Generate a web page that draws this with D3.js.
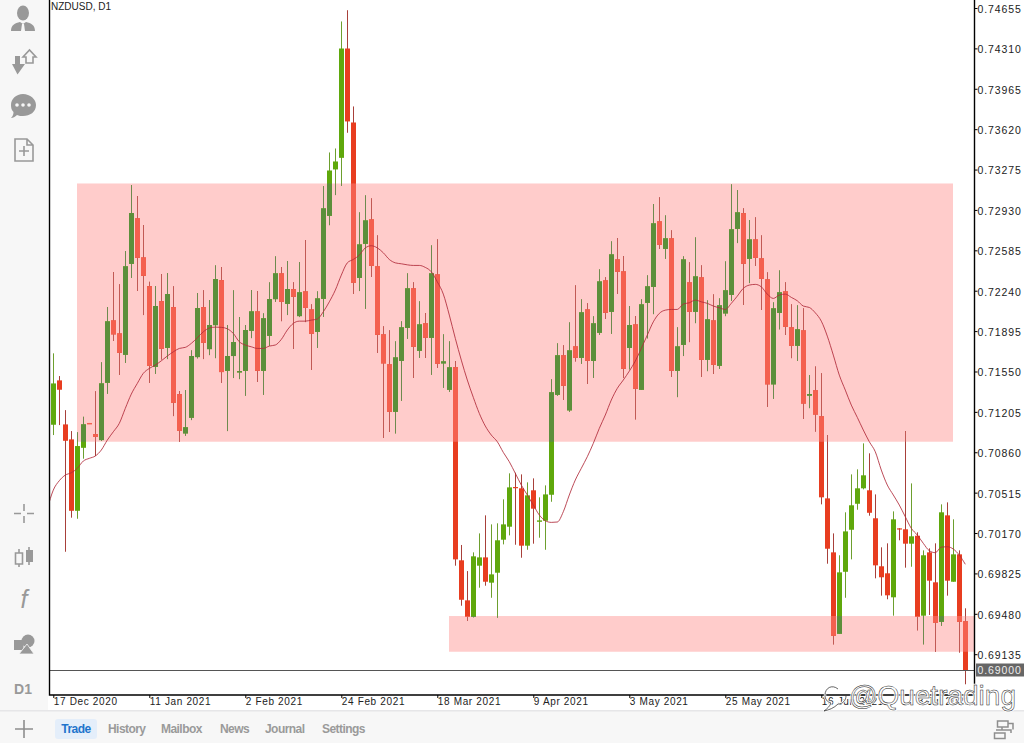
<!DOCTYPE html>
<html><head><meta charset="utf-8">
<script src="https://cdn.jsdelivr.net/npm/d3@7/dist/d3.min.js"></script>
<style>
html,body{margin:0;padding:0;background:#fff;width:1024px;height:743px;overflow:hidden}
svg{display:block}
text{font-family:"Liberation Sans",Arial,sans-serif}
</style></head><body>
<svg id="c" width="1024" height="743"></svg>
<script>
// Prices in points (1 point = 0.00001)
const opens=[71095,71474,71098,70970,70360,70898,71110,71015,70964,71454,
71986,71875,71693,72470,72858,72524,72279,71590,72151,71752,
72100,71357,71021,71155,71673,72100,71741,71946,72331,71556,
71682,71542,71556,71898,72063,71556,71855,72168,72388,72128,
72254,72023,72234,72080,71889,72171,72880,73276,73375,74309,
73677,72350,72641,72849,72448,71867,71611,71206,71641,71923,
72260,71727,71961,71838,72379,71619,71394,71588,69937,69595,
69455,69891,69962,69746,69831,70113,70224,70563,70552,70062,
70535,70266,70275,70497,71351,71688,71218,71764,71667,72080,
71641,71881,72328,72060,72507,72405,71752,71952,71394,72137,
72273,72832,72598,72687,71556,71778,72311,72060,72354,71650,
71986,71599,72046,72205,72769,72903,72513,72678,72516,72337,
71440,72051,72234,71927,71770,71901,71344,71389,71167,70466,
70005,69310,69839,70198,70420,70552,70535,70296,69886,69826,
69621,70210,70202,70079,70147,69464,70005,69749,69412,70321,
69754,69988,69416];
const highs=[71705,71511,71220,71041,71030,71163,71110,71380,71628,72100,
72399,72294,72578,73142,73048,72800,72316,72279,72382,72390,
72277,71383,71391,71730,72220,72243,72160,72456,72442,71946,
72243,72015,71946,72245,72237,72046,72311,72533,72442,72493,
72311,72484,72672,72123,72234,73133,73421,73455,74540,74636,
73814,72909,73054,73028,72712,71935,71901,71807,71978,72388,
72311,72149,72049,72627,72678,71867,71807,71639,70068,69845,
70005,70167,70321,70244,70253,70458,70680,70685,70671,70603,
70637,70475,70577,71483,71790,71773,71969,72285,72166,72132,
72021,72422,72354,72661,72689,72536,72109,72023,72166,72371,
72980,73037,72883,72755,71927,72533,72482,72695,72456,72157,
72208,72174,72490,73148,73099,72943,72843,72866,72712,72396,
72140,72413,72311,72123,72115,72089,71519,71592,71534,71007,
70167,69980,70347,70671,70714,70936,70851,70500,70048,70082,
70355,70212,71041,70594,70176,70022,70039,70082,70415,70432,
70287,70022,69527];
const lows=[71007,71092,70010,70301,70292,70805,71104,70828,70956,71360,
71812,71522,71624,72350,72239,72032,71454,71530,71653,71656,
71169,70950,71001,71135,71662,71656,71690,71664,71454,71041,
71494,71485,71343,71835,71462,71351,71770,72145,71980,72032,
71744,72015,71972,71565,71752,72017,72800,73057,73136,73589,
72214,72237,72086,72359,71710,70984,71033,71021,71300,71829,
71496,71667,71667,71522,71582,71411,71377,69891,69549,69421,
69450,69703,69720,69617,69447,70073,70150,70070,69959,70027,
70079,70130,70027,70437,71343,71308,71206,71636,71616,71445,
71496,71863,72000,71872,72214,71494,71568,71141,71394,71833,
72040,72598,72513,71505,71331,71682,71801,71963,71505,71553,
71530,71573,72023,72154,72647,72120,72305,72453,72077,71249,
71317,71910,71863,71664,71641,71144,71237,71037,70415,69908,
69219,69310,69617,69945,70369,70543,70318,69783,69635,69604,
69464,70108,69874,69882,69339,69219,69470,69156,69378,69635,
69754,69148,68878];
const closes=[71448,71394,70958,70360,70913,71098,71104,70992,71448,71978,
71867,71710,72448,72903,72521,72367,71599,72109,71744,72211,
71283,71044,71073,71682,72091,71795,71946,72339,71545,71682,
71801,71553,71904,72063,71556,72004,72168,72388,72145,72254,
72188,72226,72094,71872,72174,72943,73267,73344,74309,73686,
72308,72635,72840,72453,71863,71619,71206,71670,71927,72260,
71761,71952,71838,72388,71616,71636,71585,69945,69600,69455,
69971,69962,69754,69817,70108,70244,70560,70554,70062,70492,
70378,70278,70500,71372,71688,71428,71730,71667,72055,71641,
71961,72319,72051,72550,72402,71573,71946,71402,72123,72277,
72815,72632,72687,71556,71764,72507,72060,72362,71650,71995,
71607,72115,72243,72764,72909,72470,72678,72521,72342,71440,
72089,72226,71932,71770,71910,71276,71357,71182,70475,70036,
69293,69834,70184,70407,70552,70663,70343,69894,69792,69638,
70287,70204,70079,70142,69455,69980,69763,69404,70347,69763,
69988,69412,69000];
// Moving average, first value belongs to the bar just before the visible window
const maBefore=70375;
const movingAverage=[70537,70617,70665,70685,70723,70785,70808,70828,70879,70964,
71035,71107,71235,71357,71448,71534,71576,71605,71641,71682,
71718,71747,71756,71790,71838,71889,71921,71929,71927,71915,
71875,71804,71776,71761,71747,71747,71767,71776,71824,71904,
71961,71980,71980,71989,71998,72060,72145,72245,72373,72478,
72507,72544,72606,72624,72606,72564,72507,72478,72470,72461,
72456,72456,72439,72402,72316,72211,72032,71833,71647,71477,
71329,71192,71084,71007,70950,70859,70779,70680,70580,70495,
70409,70324,70275,70261,70264,70352,70495,70623,70723,70822,
70936,71064,71178,71306,71406,71477,71553,71639,71747,71861,
71974,72046,72074,72080,72080,72126,72137,72160,72145,72132,
72109,72094,72080,72132,72194,72260,72288,72294,72273,72211,
72174,72203,72211,72183,72154,72109,72097,72051,71980,71852,
71690,71519,71391,71263,71158,71050,70950,70864,70708,70580,
70495,70409,70309,70210,70153,70082,70019,70002,70050,70053,
70033,69982,69903];
const priceTicks=[74655,74310,73965,73620,73275,72930,72585,72240,71895,71550,71205,70860,70515,70170,69825,69480,69135];
const lastPrice=69000;
const dateLabels=["17 Dec 2020","11 Jan 2021","2 Feb 2021","24 Feb 2021","18 Mar 2021","9 Apr 2021","3 May 2021","25 May 2021","16 Jun 2021","8 Jul 2021"];
const dateIndex=[0,16,32,48,64,80,96,112,128,144];
const zoneTops=[73156,69461];
const zoneBottoms=[70950,69156];
const zoneFrom=[3.95,65.95];
const zoneTo=[149.95,153.5];
const symbolTitle="NZDUSD, D1";
const tabs=["Trade","History","Mailbox","News","Journal","Settings"];
const tabX=[76,108,161,220,265,322];

const svg=d3.select("#c");
const fmt=p=>(p/100000).toFixed(5);
const x=d3.scaleLinear().domain([0,152]).range([53.3,965.3]);
const y=d3.scaleLinear().domain([69000,74655]).range([670,8]);
const plot={l:49,r:974,t:0,b:695};
const bars=opens.map((o,i)=>({i,o,h:highs[i],l:lows[i],c:closes[i]}));
const zones=zoneTops.map((t,i)=>({t,b:zoneBottoms[i],f:zoneFrom[i],e:zoneTo[i]}));
const zoneX=d=>x(d.f), zoneW=d=>Math.min(x(d.e),plot.r)-x(d.f);

const defs=svg.append("defs");
defs.append("clipPath").attr("id","plotClip").append("rect")
  .attr("x",plot.l).attr("y",plot.t).attr("width",plot.r-plot.l).attr("height",plot.b-plot.t);
defs.append("clipPath").attr("id","zoneClip").selectAll("rect").data(zones).join("rect")
  .attr("x",zoneX).attr("width",zoneW).attr("y",d=>y(d.t)).attr("height",d=>y(d.b)-y(d.t));

// chrome
svg.append("rect").attr("width",1024).attr("height",743).attr("fill","#fff");
svg.append("rect").attr("x",0).attr("y",0).attr("width",48).attr("height",711).attr("fill","#f7f7f7");
svg.append("rect").attr("x",0).attr("y",711).attr("width",1024).attr("height",32).attr("fill","#f7f7f7");
svg.append("rect").attr("x",0).attr("y",710).attr("width",1024).attr("height",1.5).attr("fill","#e6e6e8");

// zones
svg.append("g").selectAll("rect").data(zones).join("rect")
  .attr("x",zoneX).attr("width",zoneW).attr("y",d=>y(d.t)).attr("height",d=>y(d.b)-y(d.t)).attr("fill","#ffcccb");

function drawCandles(g,pal){
  const px=d=>Math.floor(x(d.i));
  g.selectAll("line").data(bars).join("line")
    .attr("x1",d=>px(d)+.5).attr("x2",d=>px(d)+.5)
    .attr("y1",d=>y(d.h)).attr("y2",d=>y(d.l))
    .attr("stroke",d=>d.c>=d.o?pal.wu:pal.wd).attr("stroke-width",1);
  g.selectAll("rect").data(bars).join("rect")
    .attr("x",d=>px(d)-2).attr("width",5)
    .attr("y",d=>y(Math.max(d.o,d.c)))
    .attr("height",d=>Math.max(1.2,Math.abs(y(d.o)-y(d.c))))
    .attr("fill",d=>d.c>=d.o?pal.u:pal.d);
}
const root=svg.append("g").attr("clip-path","url(#plotClip)");
drawCandles(root.append("g"),{u:"#5fa80c",d:"#e83d20",wu:"#6d9f2e",wd:"#a8403a"});
drawCandles(root.append("g").attr("clip-path","url(#zoneClip)"),{u:"#5c8f3b",d:"#f4604f",wu:"#6e8a4e",wd:"#c25a55"});

// MA
const maLine=d3.line().x((d,i)=>x(i-1)).y(d=>y(d)).curve(d3.curveMonotoneX);
root.append("path").datum([maBefore].concat(movingAverage)).attr("d",maLine)
  .attr("fill","none").attr("stroke","#b02a3a").attr("stroke-width",.85);

// last price line
svg.append("line").attr("x1",plot.l).attr("x2",plot.r).attr("y1",Math.round(y(lastPrice))+.5).attr("y2",Math.round(y(lastPrice))+.5)
  .attr("stroke","#555").attr("stroke-width",1);

// frame
svg.append("path").attr("d",`M${plot.l+.5},0V${plot.b}H${plot.r+.5}V0`).attr("fill","none").attr("stroke","#000").attr("stroke-width",1.4);

// axes
const yAxis=d3.axisRight(y).tickValues(priceTicks).tickFormat(fmt).tickSize(3).tickPadding(0);
const gy=svg.append("g").attr("transform",`translate(${plot.r+.5},0)`).call(yAxis);
gy.select(".domain").remove();
gy.selectAll("text").attr("font-size",10.5).attr("letter-spacing",.9).attr("fill","#222").attr("x",3).attr("dy","0.42em");
gy.selectAll("line").attr("stroke","#000");
const xAxis=d3.axisBottom(x).tickValues(dateIndex).tickFormat((d,i)=>dateLabels[i]).tickSize(3).tickPadding(0);
const gx=svg.append("g").attr("transform",`translate(0,${plot.b})`).call(xAxis);
gx.select(".domain").remove();
gx.selectAll("text").attr("font-size",10).attr("letter-spacing",.65).attr("fill","#222")
  .attr("text-anchor","start").attr("y",3).attr("dy","0.71em");
gx.selectAll("line").attr("stroke","#000");

// last price tag
svg.append("rect").attr("x",976).attr("y",y(lastPrice)-6.5).attr("width",48).attr("height",13).attr("fill","#666");
svg.append("text").attr("x",977.5).attr("y",y(lastPrice)+4.4).attr("font-size",10.5).attr("letter-spacing",.9).attr("fill","#eee").text(fmt(lastPrice));

// title
svg.append("text").attr("x",51).attr("y",10).attr("font-size",10).attr("fill","#222").text(symbolTitle);

// left toolbar icons
const grey="#999";
const ic=svg.append("g").attr("fill",grey);
// person
ic.append("ellipse").attr("cx",23).attr("cy",13).attr("rx",6).attr("ry",7.5);
ic.append("path").attr("d","M11,31C11,25 15,23 20,22L23,24L26,22C31,23 35,25 35,31Z");
ic.append("path").attr("d","M22,24h2l1,7h-4Z").attr("fill","#f7f7f7");
// transfer arrows
ic.append("path").attr("d","M15,56h5v8h5l-7.5,10.5L12,64h3Z");
ic.append("path").attr("d","M26,63v-6h-3l6.5,-7l6.5,7h-3v6Z").attr("fill","#f7f7f7").attr("stroke",grey).attr("stroke-width",1.6);
// chat
ic.append("path").attr("d","M23,94C30,94 36,99 36,105C36,112 30,116 23,116C21,116 19,116 17,115C15,117 13,118 11,118C13,116 13.5,114 13.5,112C11.5,110 11,108 11,105C11,99 16,94 23,94Z");
ic.selectAll("circle.d").data([17,23,29]).join("circle").attr("cx",d=>d).attr("cy",105).attr("r",1.8).attr("fill","#f7f7f7");
// document
svg.append("path").attr("d","M15,139H27L33,145V161H15ZM27,139V145H33M19,151H29M24,146V156").attr("fill","none").attr("stroke",grey).attr("stroke-width",1.6);
// crosshair
svg.append("path").attr("d","M14,513.5H21M27,513.5H34M24,504V511M24,516V523").attr("fill","none").attr("stroke",grey).attr("stroke-width",1.6);
// candles
svg.append("path").attr("d","M19,549V553M19,564V567M15.5,553H22.5V564H15.5Z").attr("fill","none").attr("stroke",grey).attr("stroke-width",1.6);
svg.append("path").attr("d","M29,547V551M29,561V565").attr("stroke",grey).attr("stroke-width",1.6);
ic.append("rect").attr("x",26).attr("y",550).attr("width",7).attr("height",12);
// f
svg.append("text").attr("x",24).attr("y",608).attr("text-anchor","middle").attr("font-family","Liberation Serif").attr("font-style","italic").attr("font-size",25).attr("fill",grey).text("f");
// shapes
ic.append("circle").attr("cx",28).attr("cy",641).attr("r",6.5);
ic.append("rect").attr("x",14).attr("y",640).attr("width",9.5).attr("height",10);
ic.append("path").attr("d","M27,644L34,654H19Z").attr("stroke","#f7f7f7").attr("stroke-width",.8);
// D1
svg.append("text").attr("x",23).attr("y",694).attr("text-anchor","middle").attr("font-size",14).attr("font-weight","bold").attr("fill",grey).text("D1");
// plus
svg.append("path").attr("d","M15,729H33M24,720V738").attr("stroke","#8e8e8e").attr("stroke-width",1.6);
// link icon right
svg.append("path").attr("d","M997.5,721h10.5v6h-10.5ZM996,730H1011V733M1002,727V730M994.5,733h10.5v5.5h-10.5ZM1008,723.5H1013V729.5").attr("fill","none").attr("stroke","#8e8e8e").attr("stroke-width",1.5);

// tabs
svg.append("rect").attr("x",55).attr("y",719).attr("width",42).attr("height",20).attr("rx",3).attr("fill","#e4eefa");
svg.append("g").selectAll("text").data(tabs).join("text")
  .attr("x",(d,i)=>tabX[i]).attr("y",733).attr("text-anchor",(d,i)=>i===0?"middle":"start")
  .attr("font-size",12).attr("font-weight","bold").attr("letter-spacing",-.55)
  .attr("fill",(d,i)=>i===0?"#1f74cc":"#9a9a9a").text(d=>d);

// watermark
const wm=svg.append("g").attr("pointer-events","none");
const wmText=(sel)=>sel.attr("x",849).attr("y",705).attr("font-family","Lato").attr("font-weight",300).attr("font-size",28).text("@Quetrading");
wmText(wm.append("text")).attr("fill","none").attr("stroke","#fff").attr("stroke-width",2.4).attr("opacity",.9);
wmText(wm.append("text")).attr("fill","#fff").attr("fill-opacity",.35).attr("stroke","#222").attr("stroke-width",.5);
const bubble="M838,689C832,684 825,688 825,695C825,699 827,702 831,703C830,706 827,709 824,711C829,710 834,708 838,704C843,704 846,700 846,696";
wm.append("path").attr("d",bubble).attr("fill","none").attr("stroke","#fff").attr("stroke-width",2.4);
wm.append("path").attr("d",bubble).attr("fill","none").attr("stroke","#222").attr("stroke-width",.7);
</script>
</body></html>
